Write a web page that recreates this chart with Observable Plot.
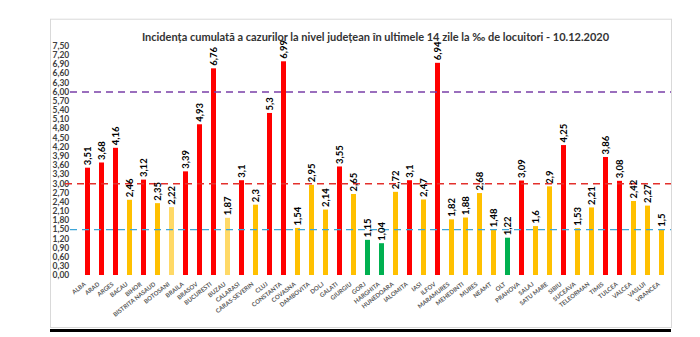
<!DOCTYPE html>
<html><head><meta charset="utf-8">
<script src="https://cdn.jsdelivr.net/npm/d3@7"></script>
<script src="https://cdn.jsdelivr.net/npm/@observablehq/plot@0.6"></script>
<style>body{margin:0;background:#fff} svg{display:block}</style>
</head><body><div id="chart"></div>
<script>
const counties = ["ALBA","ARAD","ARGES","BACAU","BIHOR","BISTRITA NASAUD","BOTOSANI","BRAILA","BRASOV","BUCURESTI","BUZAU","CALARASI","CARAS-SEVERIN","CLUJ","CONSTANTA","COVASNA","DAMBOVITA","DOLJ","GALATI","GIURGIU","GORJ","HARGHITA","HUNEDOARA","IALOMITA","IASI","ILFOV","MARAMURES","MEHEDINTI","MURES","NEAMT","OLT","PRAHOVA","SALAJ","SATU MARE","SIBIU","SUCEAVA","TELEORMAN","TIMIS","TULCEA","VALCEA","VASLUI","VRANCEA"];
const values = [3.51,3.68,4.16,2.46,3.12,2.35,2.22,3.39,4.93,6.76,1.87,3.1,2.3,5.3,6.99,1.54,2.95,2.14,3.55,2.65,1.15,1.04,2.72,3.1,2.47,6.94,1.82,1.88,2.68,1.48,1.22,3.09,1.6,2.9,4.25,1.53,2.21,3.86,3.08,2.42,2.27,1.5];
const levels = ["red","red","red","orange","red","orange","light","red","red","red","light","red","orange","red","red","orange","orange","orange","red","orange","green","green","orange","red","orange","red","orange","orange","orange","orange","green","red","orange","orange","red","orange","orange","red","red","orange","orange","orange"];
const yTicks = [0,0.3,0.6,0.9,1.2,1.5,1.8,2.1,2.4,2.7,3.0,3.3,3.6,3.9,4.2,4.5,4.8,5.1,5.4,5.7,6.0,6.3,6.6,6.9,7.2,7.5];
const thresholds = [6, 3, 1.5];
const thresholdColors = ["#7a3fa8", "#e3302c", "#3ea6d8"];
const levelNames = ["red","orange","light","green"];
const levelColors = ["#ff0000","#ffc000","#ffd966","#00b050"];
const title = "Incidența cumulată a cazurilor la nivel județean în ultimele 14 zile la ‰ de locuitori - 10.12.2020";

const data = counties.map((c, i) => ({county: c, value: values[i], level: levels[i]}));
const fmt = v => String(v).replace(".", ",");

const chart = Plot.plot({
  width: 700, height: 337,
  marginLeft: 81, marginRight: 31, marginTop: 45.7, marginBottom: 62,
  x: {domain: counties, paddingInner: 0.64, paddingOuter: 0, axis: null},
  y: {domain: [0, 7.5], axis: null},
  color: {type: "ordinal", domain: levelNames, range: levelColors},
  style: {fontFamily: "Lato, 'Open Sans', sans-serif", background: "#fff"},
  marks: [
    Plot.frame({stroke: "#d9d9d9", insetLeft: -31, insetTop: -27, insetRight: -2, insetBottom: -52}),
    Plot.ruleY([0], {stroke: "#000", strokeWidth: 3, dy: 55, insetLeft: -31, insetRight: -2}),
    Plot.text(yTicks, {y: d => d, text: d => d.toFixed(2).replace(".", ","), frameAnchor: "left", textAnchor: "start", dx: -29, fontSize: 8.5, fontWeight: "bold", fill: "#404040"}),
    Plot.barY(data, {x: "county", y: "value", fill: "level"}),
    ...thresholds.map((t, i) => Plot.ruleY([t], {stroke: thresholdColors[i], strokeDasharray: "7,5", strokeWidth: 1.4, insetLeft: i === 1 ? -16 : -11, insetRight: -2})),
    Plot.text(data, {x: "county", y: "value", text: d => fmt(d.value), rotate: -90, textAnchor: "start", dy: -3, fontSize: 9.5, fontWeight: "bold", fill: "#000"}),
    Plot.text(data, {x: "county", y: 0, text: "county", rotate: -38, textAnchor: "end", dx: -3, dy: 8, fontSize: 6, fontWeight: "bold", fill: "#595959"}),
    Plot.text([title], {frameAnchor: "top", dy: -13, text: d => d, fontSize: 11, fontWeight: "bold", fill: "#333"})
  ]
});
document.getElementById("chart").appendChild(chart);
</script>
</body></html>
